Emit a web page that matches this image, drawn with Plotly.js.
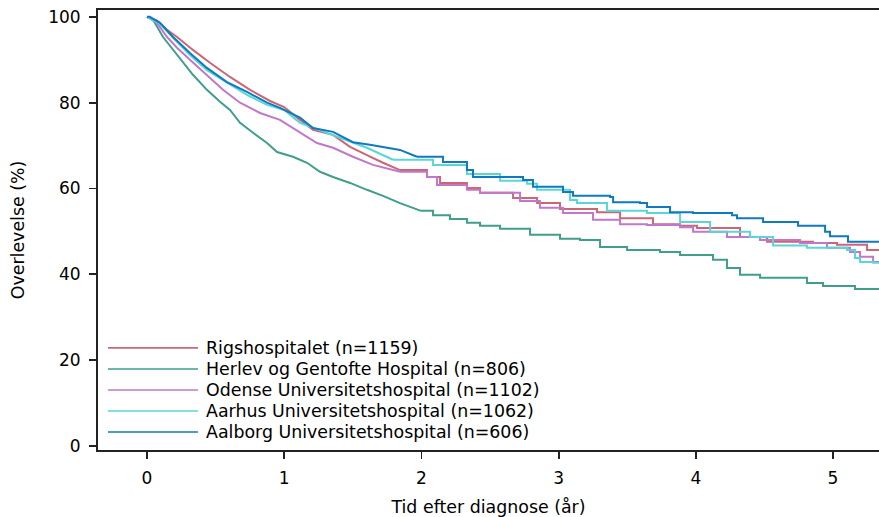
<!DOCTYPE html>
<html>
<head>
<meta charset="utf-8">
<script src="https://cdn.plot.ly/plotly-3.0.1.min.js"></script>
<style>html,body{margin:0;padding:0;background:#fff;}#chart{width:879px;height:517px;}</style>
</head>
<body>
<div id="chart"></div>
<script>
// Series names and colours
var seriesNames = [
  "Rigshospitalet (n=1159)",
  "Herlev og Gentofte Hospital (n=806)",
  "Odense Universitetshospital (n=1102)",
  "Aarhus Universitetshospital (n=1062)",
  "Aalborg Universitetshospital (n=606)"
];
var seriesColors = ["#cc6677", "#3f9e8c", "#c077cc", "#5ad6d6", "#0f7ac0"];

// Time after diagnosis (years) and survival (%)
var rigsT = [0, 0.073, 0.146, 0.219, 0.335, 0.459, 0.605, 0.751, 0.897, 1.0, 1.115, 1.21, 1.356, 1.48, 1.603, 1.72, 1.844, 2.041, 2.136, 2.332, 2.427, 2.668, 2.843, 3.01, 3.28, 3.448, 3.688, 3.885, 4.009, 4.322, 4.519, 4.854, 5.029, 5.248, 5.4];
var rigsS = [100, 99.1, 97.0, 95.3, 92.3, 89.3, 86.0, 83.0, 80.4, 79.0, 76.0, 73.7, 72.5, 69.7, 67.8, 66.0, 64.3, 62.7, 61.3, 60.1, 59.0, 57.8, 56.6, 55.2, 54.5, 53.1, 51.7, 51.3, 50.8, 48.7, 47.6, 47.3, 46.9, 45.7, 45.7];

var herlevT = [0, 0.044, 0.117, 0.19, 0.262, 0.335, 0.437, 0.532, 0.605, 0.678, 0.773, 0.875, 0.948, 1.064, 1.166, 1.261, 1.356, 1.48, 1.603, 1.72, 1.844, 1.997, 2.085, 2.208, 2.332, 2.427, 2.573, 2.792, 3.01, 3.156, 3.302, 3.499, 3.739, 3.885, 4.125, 4.227, 4.322, 4.468, 4.81, 4.927, 5.16, 5.4];
var herlevS = [100, 99.3, 95.3, 92.3, 89.3, 86.5, 83.0, 80.2, 78.3, 75.3, 73.0, 70.6, 68.5, 67.4, 66.0, 63.9, 62.7, 61.3, 59.7, 58.3, 56.6, 54.8, 53.8, 52.9, 52.0, 51.3, 50.6, 49.2, 48.3, 48.0, 46.4, 45.7, 45.2, 44.5, 43.4, 41.5, 39.9, 39.2, 38.0, 37.3, 36.6, 36.6];

var odenseT = [0, 0.073, 0.146, 0.219, 0.313, 0.437, 0.554, 0.678, 0.824, 0.969, 1.115, 1.239, 1.356, 1.501, 1.647, 1.844, 2.041, 2.114, 2.332, 2.427, 2.719, 2.864, 3.032, 3.251, 3.448, 3.644, 3.885, 3.98, 4.227, 4.468, 4.76, 4.956, 5.124, 5.197, 5.292, 5.4];
var odenseS = [100, 98.6, 95.3, 92.8, 90.0, 86.5, 83.0, 80.0, 77.6, 76.0, 73.0, 70.6, 69.5, 67.4, 65.5, 63.9, 62.7, 60.8, 59.7, 59.0, 57.1, 55.5, 54.3, 52.7, 51.7, 51.5, 51.0, 49.9, 48.7, 48.0, 47.3, 46.2, 45.2, 44.1, 42.9, 42.9];

var aarhusT = [0, 0.095, 0.19, 0.313, 0.437, 0.583, 0.729, 0.875, 1.0, 1.115, 1.356, 1.603, 1.793, 2.085, 2.332, 2.573, 2.77, 2.843, 3.083, 3.134, 3.353, 3.644, 3.885, 4.104, 4.395, 4.563, 4.81, 5.102, 5.16, 5.197, 5.292, 5.4];
var aarhusS = [100, 98.4, 95.1, 91.1, 87.6, 84.6, 81.8, 79.5, 78.3, 75.3, 72.5, 69.5, 66.7, 65.5, 63.4, 61.8, 61.1, 59.7, 57.3, 56.6, 54.8, 54.3, 52.2, 49.9, 48.7, 46.7, 46.2, 45.7, 43.8, 42.9, 42.7, 42.7];

var aalborgT = [0, 0.02, 0.095, 0.19, 0.313, 0.437, 0.583, 0.729, 0.875, 0.969, 1.115, 1.21, 1.356, 1.501, 1.625, 1.844, 1.968, 2.157, 2.332, 2.376, 2.741, 2.813, 3.032, 3.105, 3.375, 3.397, 3.593, 3.644, 3.812, 3.98, 4.264, 4.30, 4.49, 4.745, 4.942, 4.978, 5.109, 5.4];
var aalborgS = [100, 100, 98.6, 95.3, 91.6, 88.1, 84.8, 82.5, 80.0, 78.8, 76.5, 74.1, 73.2, 70.8, 70.2, 69.0, 67.4, 66.2, 64.3, 62.7, 62.0, 60.4, 59.2, 58.3, 58.0, 56.8, 56.6, 55.7, 54.5, 54.3, 53.8, 53.1, 52.2, 51.3, 49.9, 48.9, 47.6, 47.6];

var xTicks = [0, 1, 2, 3, 4, 5];
var yTicks = [0, 20, 40, 60, 80, 100];
var xTitle = "Tid efter diagnose (år)";
var yTitle = "Overlevelse (%)";

var allT = [rigsT, herlevT, odenseT, aarhusT, aalborgT];
var allS = [rigsS, herlevS, odenseS, aarhusS, aalborgS];

var font = "DejaVu Sans, sans-serif";
// Early part has many tiny steps (drawn smooth); later part drawn as visible steps
var smoothUntil = 2.0;
var traces = [];
for (var i = 0; i < seriesNames.length; i++) {
  var t = allT[i], s = allS[i];
  var k = 0;
  while (k < t.length - 1 && t[k + 1] <= smoothUntil) k++;
  traces.push({
    type: "scatter", mode: "lines",
    x: t.slice(0, k + 1), y: s.slice(0, k + 1), name: seriesNames[i],
    line: {color: seriesColors[i], width: 2, shape: "linear"},
    showlegend: false, hoverinfo: "skip"
  });
  traces.push({
    type: "scatter", mode: "lines",
    x: t.slice(k), y: s.slice(k), name: seriesNames[i],
    line: {color: seriesColors[i], width: 2, shape: "hv"},
    showlegend: false, hoverinfo: "skip"
  });
}

// Custom legend (line sample + label) in paper coordinates
var shapes = [], annotations = [];
var legTop = 0.232, legStep = 0.0478;
for (var j = 0; j < seriesNames.length; j++) {
  var yy = legTop - j * legStep;
  shapes.push({type: "line", xref: "paper", yref: "paper", x0: 0.0128, x1: 0.128, y0: yy, y1: yy,
    line: {color: seriesColors[j], width: 1.6}});
  annotations.push({xref: "paper", yref: "paper", x: 0.1355, y: yy, xanchor: "left", yanchor: "middle",
    text: seriesNames[j], showarrow: false, font: {family: font, size: 17.4, color: "#000"}});
}

var layout = {
  width: 879, height: 517,
  margin: {l: 98, r: 0, t: 10, b: 67},
  paper_bgcolor: "#fff", plot_bgcolor: "#fff",
  font: {family: font, size: 17, color: "#000"},
  showlegend: false,
  xaxis: {
    range: [-0.357, 5.335], tickvals: xTicks, ticktext: xTicks.map(String),
    showgrid: false, zeroline: false, showline: true, mirror: true,
    linecolor: "#222", linewidth: 2, ticks: "outside", ticklen: 7, tickwidth: 1.8, tickcolor: "#222",
    ticklabelstandoff: 5,
    title: {text: xTitle, font: {family: font, size: 17.4, color: "#000"}, standoff: 14}
  },
  yaxis: {
    range: [-0.93, 101.6], tickvals: yTicks, ticktext: yTicks.map(String),
    showgrid: false, zeroline: false, showline: true, mirror: false,
    linecolor: "#222", linewidth: 2, ticks: "outside", ticklen: 7, tickwidth: 1.8, tickcolor: "#222",
    ticklabelstandoff: 5,
    title: {text: yTitle, font: {family: font, size: 17.4, color: "#000"}, standoff: 19}
  },
  shapes: shapes,
  annotations: annotations
};

Plotly.newPlot("chart", traces, layout, {staticPlot: true, displayModeBar: false});
</script>
</body>
</html>
